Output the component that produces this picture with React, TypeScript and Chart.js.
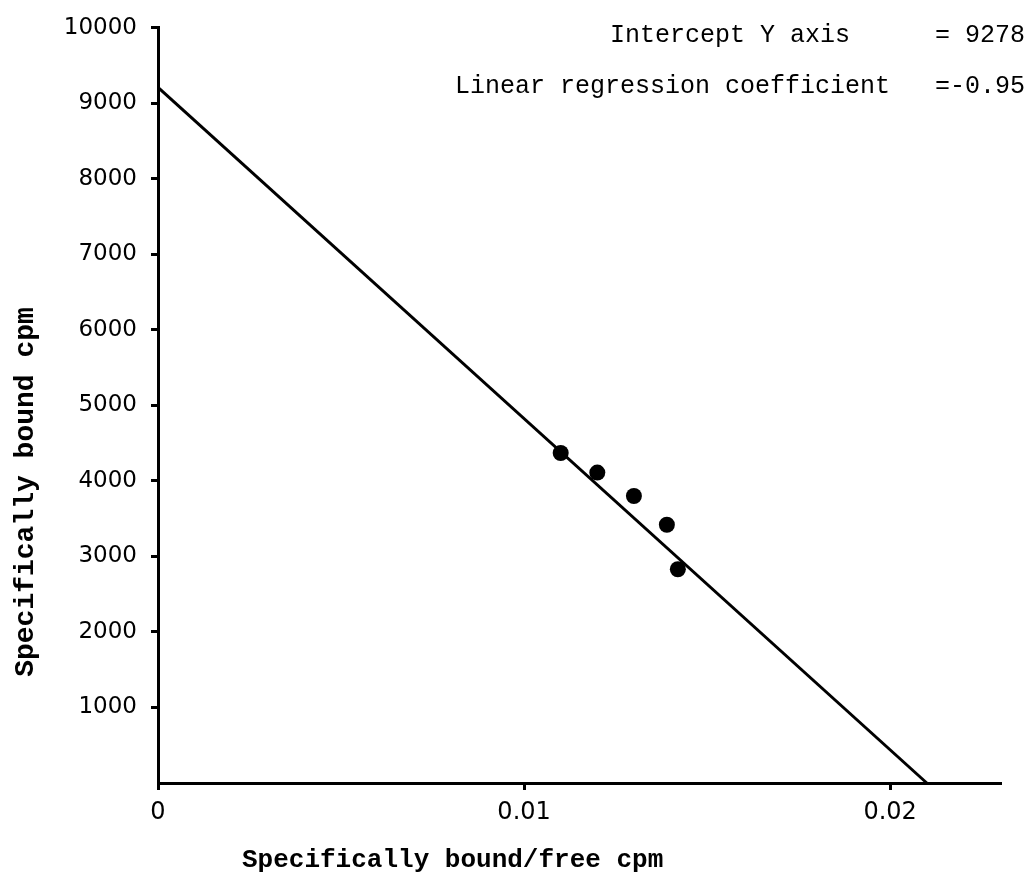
import React, { useEffect, useRef } from 'react';
import { Chart, registerables } from 'chart.js';

Chart.register(...registerables);

// Measured points (specifically bound/free cpm vs specifically bound cpm)
const boundFreeRatio = [0.011, 0.012, 0.013, 0.0139, 0.0142];
const boundCpm = [4370, 4110, 3800, 3420, 2830];

// Regression line end points
const regressionX = [0, 0.021];
const regressionY = [9210, 0];

// Axis ticks
const yTickValues = [1000, 2000, 3000, 4000, 5000, 6000, 7000, 8000, 9000, 10000];
const xTickValues = [0, 0.01, 0.02];
const xTickLabels = ['0', '0.01', '0.02'];

// Texts
const yAxisTitle = 'Specifically bound cpm';
const xAxisTitle = 'Specifically bound/free cpm';
const annotationLabels = ['Intercept Y axis', 'Linear regression coefficient'];
const annotationValues = ['= 9278', '=-0.95'];

const textPlugin = {
  id: 'freeTexts',
  afterDraw(chart: any) {
    const ctx = chart.ctx as CanvasRenderingContext2D;
    ctx.save();
    ctx.fillStyle = '#000';
    ctx.textBaseline = 'middle';
    ctx.textAlign = 'left';
    ctx.font = '25px "Liberation Mono"';
    ctx.fillText(annotationLabels[0], 610, 35);
    ctx.fillText(annotationValues[0], 935, 35);
    ctx.fillText(annotationLabels[1], 455, 86);
    ctx.fillText(annotationValues[1], 935, 86);

    // axis titles
    ctx.textAlign = 'left';
    ctx.font = 'bold 26px "Liberation Mono"';
    ctx.fillText(xAxisTitle, 242, 860);
    ctx.translate(26, 492);
    ctx.rotate(-Math.PI / 2);
    ctx.textAlign = 'center';
    ctx.font = 'bold 28px "Liberation Mono"';
    ctx.fillText(yAxisTitle, 0, 0);
    ctx.restore();
  },
};

export default function App() {
  const canvasRef = useRef<HTMLCanvasElement | null>(null);

  useEffect(() => {
    const canvas = canvasRef.current;
    if (!canvas) return;
    const chart = new Chart(canvas, {
      type: 'scatter',
      data: {
        datasets: [
          {
            type: 'line',
            label: 'Regression',
            data: regressionX.map((x, i) => ({ x, y: regressionY[i] })),
            borderColor: '#000',
            borderWidth: 3,
            pointRadius: 0,
            fill: false,
            clip: false as any,
          },
          {
            label: 'Data',
            data: boundFreeRatio.map((x, i) => ({ x, y: boundCpm[i] })),
            backgroundColor: '#000',
            borderColor: '#000',
            borderWidth: 0,
            pointRadius: 8,
            clip: false as any,
          },
        ],
      },
      options: {
        responsive: false,
        animation: false,
        devicePixelRatio: 1,
        layout: { padding: { top: 26, right: 33, left: 0, bottom: 0 } },
        plugins: {
          legend: { display: false },
          tooltip: { enabled: false },
          title: { display: false },
        },
        scales: {
          x: {
            type: 'linear',
            min: 0,
            max: 0.023,
            afterBuildTicks: (scale: any) => {
              scale.ticks = xTickValues.map((v) => ({ value: v }));
            },
            afterFit: (scale: any) => {
              scale.height = 97;
            },
            ticks: {
              color: '#000',
              font: { family: 'DejaVu Sans', size: 24 },
              padding: 8,
              maxRotation: 0,
              callback: (v: any) => {
                const i = xTickValues.indexOf(Number(v));
                return i >= 0 ? xTickLabels[i] : '';
              },
            },
            grid: {
              display: true,
              drawOnChartArea: false,
              drawTicks: true,
              tickLength: 7,
              color: '#000',
              lineWidth: 3,
            },
            border: { display: true, color: '#000', width: 3 },
          },
          y: {
            type: 'linear',
            min: 0,
            max: 10000,
            afterBuildTicks: (scale: any) => {
              scale.ticks = yTickValues.map((v) => ({ value: v }));
            },
            afterFit: (scale: any) => {
              scale.width = 158;
            },
            ticks: {
              color: '#000',
              font: { family: 'DejaVu Sans', size: 23 },
              padding: 14,
              callback: (v: any) => String(v),
            },
            grid: {
              display: true,
              drawOnChartArea: false,
              drawTicks: true,
              tickLength: 7,
              color: '#000',
              lineWidth: 3,
            },
            border: { display: true, color: '#000', width: 3 },
          },
        },
      },
      plugins: [textPlugin],
    });
    return () => chart.destroy();
  }, []);

  return (
    <div style={{ position: 'absolute', left: 0, top: 0, width: 1033, height: 880, background: '#fff' }}>
      <canvas ref={canvasRef} width={1033} height={880} style={{ display: 'block' }} />
    </div>
  );
}
